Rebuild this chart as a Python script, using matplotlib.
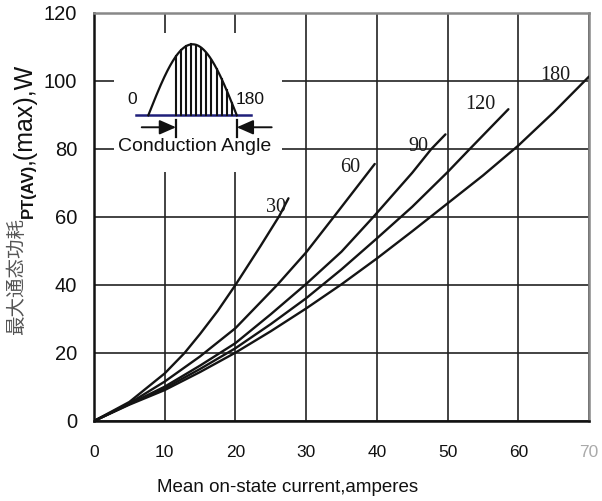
import numpy as np
import matplotlib
matplotlib.use("Agg")
import matplotlib.pyplot as plt

# ---- data ----
I30 = [0, 5, 10, 12.8, 15, 17.5, 20, 23.5, 26.2, 27.5]
P30 = [0, 5.6, 14, 20, 25.6, 32.4, 40, 51.3, 60.3, 65.5]

I60 = [0, 5, 10, 15, 20, 25.9, 30, 33.9, 39.7]
P60 = [0, 5.2, 11.6, 19, 27.3, 40, 49.6, 60, 75.6]

I90 = [0, 5, 10, 15, 20, 25, 30, 35, 39.5, 45, 47.7, 49.7]
P90 = [0, 5, 10.1, 16.3, 22.9, 31.4, 40.3, 49.8, 60, 73, 80, 84.3]

I120 = [0, 5, 10, 15, 20, 25, 30, 35, 40, 45, 50, 53, 58.6]
P120 = [0, 5, 9.6, 15.3, 21.4, 28.5, 36.1, 44.6, 53.7, 63, 73.2, 79.7, 91.7]

I180 = [0, 5, 10, 15, 20, 25, 30, 35, 40, 45, 50, 55, 60, 65, 70]
P180 = [0, 4.8, 9.1, 14.4, 20.1, 26.4, 33.1, 40.2, 47.8, 55.8, 64, 72.2, 81, 90.8, 101.3]

curve_labels = ["30", "60", "90", "120", "180"]
label_pos = [(25.7, 62.8), (36.2, 74.6), (45.9, 80.6), (54.6, 93.2), (65.3, 101.7)]

x_ticks = [0, 10, 20, 30, 40, 50, 60, 70]
y_ticks = [0, 20, 40, 60, 80, 100, 120]

fig = plt.figure(figsize=(6.02, 5.01), dpi=100)
ax = fig.add_axes([94/602, 80/501, 495/602, 408/501])
ax.set_xlim(0, 70)
ax.set_ylim(0, 120)
ax.set_axisbelow(True)
ax.grid(True, color="#222222", lw=1.2)

for I, P in [(I30, P30), (I60, P60), (I90, P90), (I120, P120), (I180, P180)]:
    ax.plot(I, P, color="#141414", lw=1.7, solid_capstyle="round",
            solid_joinstyle="round", zorder=3)

for lab, (x, y) in zip(curve_labels, label_pos):
    ax.text(x, y, lab, ha="center", va="center", fontsize=14.5,
            family="Liberation Serif", color="#1a1a1a", zorder=4)

ax.set_xticks(x_ticks)
ax.set_yticks(y_ticks)
ax.set_xticklabels([str(v) for v in x_ticks], fontsize=12.5, family="Liberation Sans")
ax.set_yticklabels([str(v) for v in y_ticks], fontsize=14.5, family="Liberation Sans")
ax.tick_params(axis="x", length=0, pad=17, colors="#111111")
ax.get_xticklabels()[-1].set_color("#aaaaaa")
ax.tick_params(axis="y", length=0, pad=12, colors="#111111")
for s in ["left", "bottom"]:
    ax.spines[s].set_color("#111111")
    ax.spines[s].set_linewidth(1.8)
for s in ["top", "right"]:
    ax.spines[s].set_color("#888888")
    ax.spines[s].set_linewidth(1.8)

# x label
fig.text(288/602, 13/501, "Mean on-state current,amperes", ha="center", va="center",
         fontsize=13.5, family="Liberation Sans", color="#111111")

# y label composed of pieces
t1 = fig.text(17/602, 166/501, "最大通态功耗", rotation=90, ha="center", va="bottom",
              fontsize=14, family=["Noto Sans CJK SC", "DejaVu Sans"], color="#555555")
t2 = ax.annotate("PT(AV)", xy=(0.5, 1.0), xycoords=t1, xytext=(8.0, 0),
                 textcoords="offset points", rotation=90, ha="center", va="bottom",
                 fontsize=12, fontweight="bold", family="Liberation Sans",
                 color="#111111", annotation_clip=False)
t3 = ax.annotate(",(max),W", xy=(0.5, 1.0), xycoords=t2, xytext=(-3, 0),
                 textcoords="offset points", rotation=90, ha="center", va="bottom",
                 fontsize=18, family="Liberation Sans", color="#111111",
                 annotation_clip=False)

# ---- inset schematic (conduction angle) ----
axi = fig.add_axes([114/602, 329/501, 168/602, 139/501])
axi.set_facecolor("white")
for s in axi.spines.values():
    s.set_visible(False)
axi.set_xticks([])
axi.set_yticks([])
axi.set_xlim(-69.8, 272)
axi.set_ylim(-0.799, 1.159)

theta = np.linspace(0, 180, 200)
axi.plot([-25, 208.5], [0, 0], color="#1f1f7a", lw=1.8)
axi.plot(theta, np.sin(np.radians(theta)), color="#111111", lw=1.6)
for th in np.arange(56.4, 175, 10.3):
    axi.plot([th, th], [0, np.sin(np.radians(th))], color="#111111", lw=1.5)
axi.text(-33.8, 0.225, "0", ha="center", va="center", fontsize=12.5,
         family="Liberation Sans", color="#111111")
axi.text(208, 0.225, "180", ha="center", va="center", fontsize=12.5,
         family="Liberation Sans", color="#111111")
axi.plot([56.4, 56.4], [-0.06, -0.30], color="#111111", lw=1.6)
axi.plot([180, 180], [-0.06, -0.30], color="#111111", lw=1.6)
astyle = "-|>,head_length=0.5,head_width=0.22"
axi.annotate("", xy=(56.4, -0.169), xytext=(-13.4, -0.169),
             arrowprops=dict(arrowstyle=astyle, mutation_scale=20, color="#111111",
                             lw=1.4, shrinkA=0, shrinkB=0))
axi.annotate("", xy=(180, -0.169), xytext=(251, -0.169),
             arrowprops=dict(arrowstyle=astyle, mutation_scale=20, color="#111111",
                             lw=1.4, shrinkA=0, shrinkB=0))
axi.text(95, -0.44, "Conduction Angle", ha="center", va="center", fontsize=14,
         family="Liberation Sans", color="#111111")

fig.savefig("out.png", dpi=100)
